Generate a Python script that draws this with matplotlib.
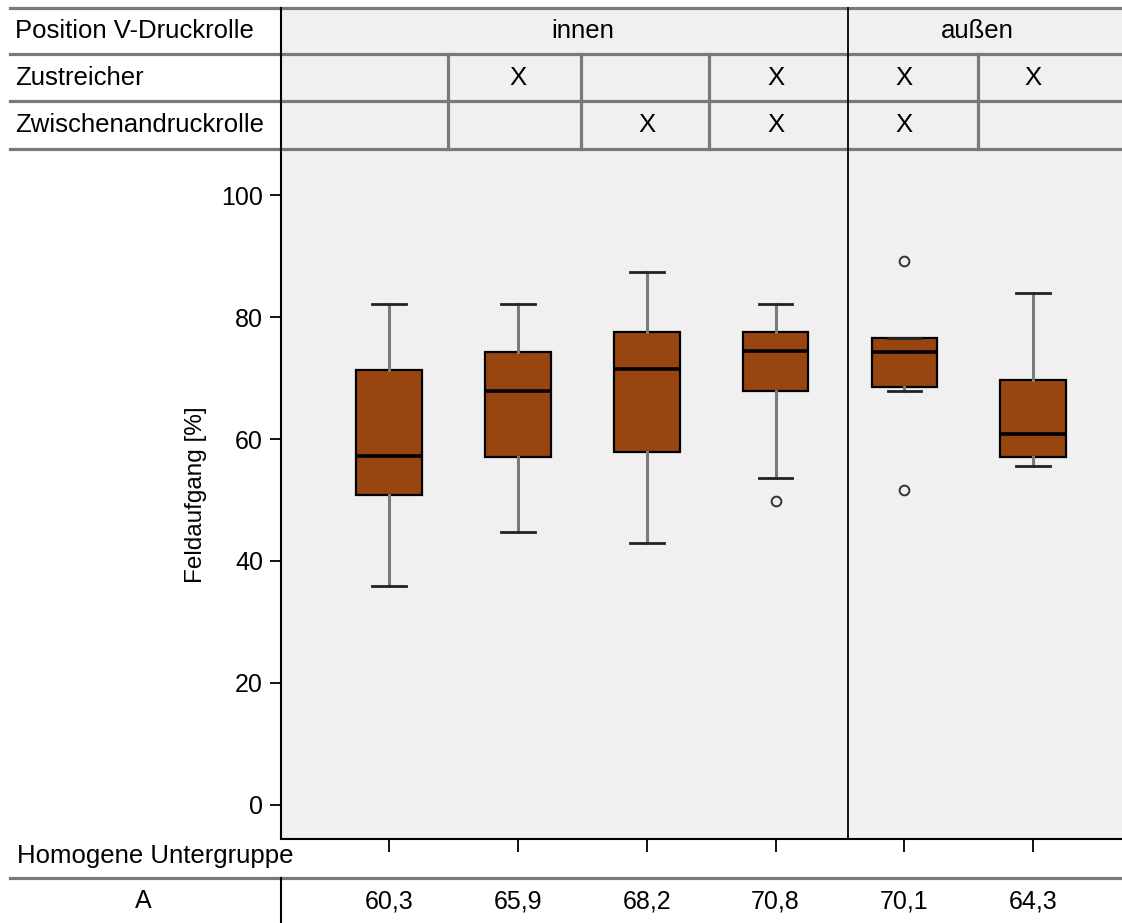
# coding: utf-8

import matplotlib
matplotlib.use("Agg")
import matplotlib.pyplot as plt
import matplotlib.transforms as mtransforms
from matplotlib.patches import Rectangle
from matplotlib.lines import Line2D

plt.rcParams['font.family'] = ['Liberation Sans', 'DejaVu Sans']

# daten
positionen = [1, 2, 3, 4, 5, 6]
position_v = ['innen', 'außen']
zustreicher = ['', 'X', '', 'X', 'X', 'X']
zwischenandruck = ['', '', 'X', 'X', 'X', '']
whislo = [35.9, 44.7, 42.9, 53.6, 67.8, 55.5]
q1 = [50.9, 57.1, 57.9, 67.8, 68.6, 57.0]
med = [57.2, 67.9, 71.5, 74.4, 74.3, 60.8]
q3 = [71.4, 74.2, 77.5, 77.5, 76.6, 69.6]
whishi = [82.1, 82.1, 87.4, 82.2, 76.6, 84.0]
fliers = [[], [], [], [49.8], [89.2, 51.6], []]
untergruppe_a = ['60,3', '65,9', '68,2', '70,8', '70,1', '64,3']
yticks = [0, 20, 40, 60, 80, 100]

W, H = 1122, 923
grau_bg = '#f0f0f0'
linie = '#7a7a7a'
braun = '#98450f'

fig = plt.figure(figsize=(W / 100, H / 100), dpi=100)
fig.patch.set_facecolor('white')

def fy(py):
    return 1 - py / H

# hauptplot
ax = fig.add_axes([281 / W, fy(839), (W - 281) / W, (839 - 150) / H])
ax.set_facecolor(grau_bg)
ax.set_xlim(0.16, 6.69)
ax.set_ylim(-5.6, 107.4)

stats = []
for i in range(len(positionen)):
    stats.append(dict(whislo=whislo[i], q1=q1[i], med=med[i], q3=q3[i],
                      whishi=whishi[i], fliers=fliers[i]))

ax.bxp(stats, positions=positionen, widths=0.51, patch_artist=True,
       boxprops=dict(facecolor=braun, edgecolor='black', linewidth=1.6),
       medianprops=dict(color='black', linewidth=2.6),
       whiskerprops=dict(color=linie, linewidth=2.2),
       capprops=dict(color='#222222', linewidth=2.0),
       capwidths=0.26,
       flierprops=dict(marker='o', markerfacecolor='none', markeredgecolor='#333333',
                       markersize=7, markeredgewidth=1.4))

for s in ['top', 'right']:
    ax.spines[s].set_visible(False)
for s in ['left', 'bottom']:
    ax.spines[s].set_linewidth(1.5)

ax.axvline(4.56, color='black', linewidth=1.3)

ax.set_yticks(yticks)
ax.set_yticklabels([str(t) for t in yticks], fontsize=18)
ax.set_xticks(positionen)
ax.set_xticklabels([])
ax.tick_params(axis='y', length=8, width=1.3, pad=5)
ax.tick_params(axis='x', length=9, width=1.3)
ax.set_ylabel('Feldaufgang [%]', fontsize=17.5, labelpad=10)

# tabellenkopf
trans = mtransforms.blended_transform_factory(ax.transData, fig.transFigure)
fig.patches.append(Rectangle((281 / W, fy(149)), (W - 281) / W, (149 - 8) / H,
                             transform=fig.transFigure, facecolor=grau_bg,
                             edgecolor='none', zorder=0))

for py in [8, 54, 101, 149]:
    fig.add_artist(Line2D([10 / W, 1], [fy(py), fy(py)], color=linie, linewidth=2.3))
fig.add_artist(Line2D([281 / W, 281 / W], [fy(8), fy(150)], color='black', linewidth=1.5))
fig.add_artist(Line2D([4.56, 4.56], [fy(8), fy(150)], transform=trans,
                      color='black', linewidth=1.3))
for xd in [1.46, 2.49, 3.48, 5.57]:
    fig.add_artist(Line2D([xd, xd], [fy(54), fy(149)], transform=trans,
                          color=linie, linewidth=2.3))

fs = 18.5
fig.text(15 / W, fy(31), 'Position V-Druckrolle', fontsize=fs, va='center', ha='left')
fig.text(15 / W, fy(78), 'Zustreicher', fontsize=fs, va='center', ha='left')
fig.text(15 / W, fy(125), 'Zwischenandruckrolle', fontsize=fs, va='center', ha='left')

fig.text(2.5, fy(31), position_v[0], transform=trans, fontsize=fs, ha='center', va='center')
fig.text(5.57, fy(31), position_v[1], transform=trans, fontsize=fs, ha='center', va='center')
for i, p in enumerate(positionen):
    fig.text(p, fy(78), zustreicher[i], transform=trans, fontsize=fs, ha='center', va='center')
    fig.text(p, fy(125), zwischenandruck[i], transform=trans, fontsize=fs, ha='center', va='center')

# homogene untergruppen
fig.text(17 / W, fy(856), 'Homogene Untergruppe', fontsize=fs, va='center', ha='left')
fig.add_artist(Line2D([10 / W, 1], [fy(878), fy(878)], color=linie, linewidth=2.3))
fig.add_artist(Line2D([281 / W, 281 / W], [fy(878), 0], color='black', linewidth=1.5))
fig.text(143 / W, fy(901), 'A', fontsize=18, va='center', ha='center')
for i, p in enumerate(positionen):
    fig.text(p, fy(901), untergruppe_a[i], transform=trans, fontsize=18, ha='center', va='center')

plt.savefig('out.png', dpi=100)
